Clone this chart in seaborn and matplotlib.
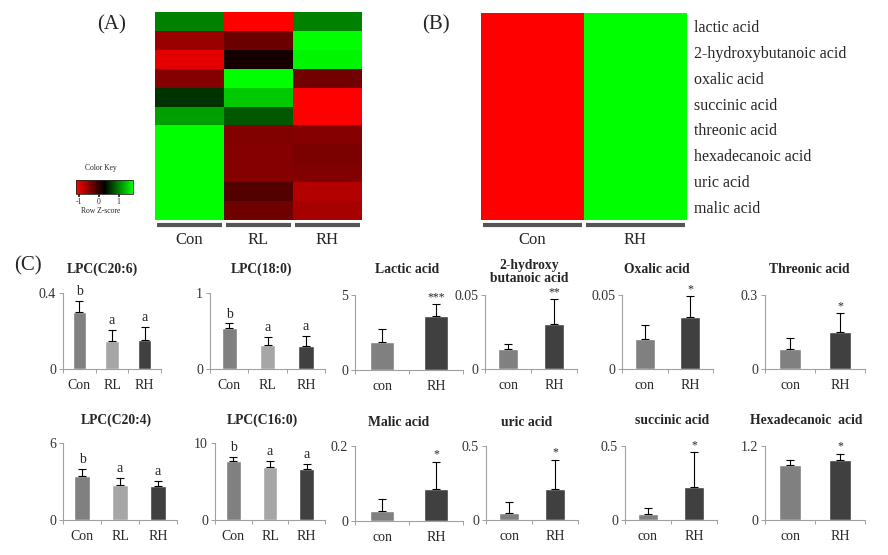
import numpy as np
import pandas as pd
import matplotlib
matplotlib.use('Agg')
import matplotlib.pyplot as plt
import seaborn as sns
from matplotlib.colors import LinearSegmentedColormap, Normalize
from matplotlib.cm import ScalarMappable

################################################################################
# data
################################################################################

# (A) row z-scores, 11 metabolites x 3 groups
groups_a = ['Con', 'RL', 'RH']
zscore_a = [
    [0.58, -1.15, 0.58],
    [-0.69, -0.48, 1.15],
    [-1.03, -0.09, 1.10],
    [-0.60, 1.15, -0.52],
    [0.23, 0.90, -1.15],
    [0.71, 0.40, -1.15],
    [1.15, -0.58, -0.60],
    [1.15, -0.60, -0.55],
    [1.15, -0.60, -0.58],
    [1.15, -0.37, -0.80],
    [1.15, -0.50, -0.75],
]

# (B) row z-scores, 8 acids x 2 groups
groups_b = ['Con', 'RH']
acids_b = ['lactic acid', '2-hydroxybutanoic acid', 'oxalic acid', 'succinic acid',
           'threonic acid', 'hexadecanoic acid', 'uric acid', 'malic acid']
zscore_b = [
    [-0.71, 0.71],
    [-0.71, 0.71],
    [-0.71, 0.71],
    [-0.71, 0.71],
    [-0.71, 0.71],
    [-0.71, 0.71],
    [-0.71, 0.71],
    [-0.71, 0.71],
]

# (C) bar charts
lpc_groups = ['Con', 'RL', 'RH']
acid_groups = ['con', 'RH']

lpc20_6_mean = [0.30, 0.149, 0.153]
lpc20_6_err = [0.06, 0.056, 0.07]
lpc18_0_mean = [0.54, 0.32, 0.30]
lpc18_0_err = [0.06, 0.10, 0.14]
lpc20_4_mean = [3.39, 2.74, 2.66]
lpc20_4_err = [0.57, 0.55, 0.39]
lpc16_0_mean = [7.66, 6.88, 6.62]
lpc16_0_err = [0.52, 0.78, 0.65]
lpc_letters = ['b', 'a', 'a']

lactic_mean = [1.88, 3.59]
lactic_err = [0.86, 0.78]
hydroxybut_mean = [0.0135, 0.0304]
hydroxybut_err = [0.0032, 0.0166]
oxalic_mean = [0.020, 0.0353]
oxalic_err = [0.010, 0.0137]
threonic_mean = [0.081, 0.151]
threonic_err = [0.043, 0.075]
malic_mean = [0.026, 0.086]
malic_err = [0.032, 0.071]
uric_mean = [0.049, 0.21]
uric_err = [0.071, 0.195]
succinic_mean = [0.04, 0.22]
succinic_err = [0.039, 0.237]
hexadec_mean = [0.90, 0.98]
hexadec_err = [0.08, 0.09]

################################################################################
# style / layout
################################################################################

sns.set_theme(style='white')
plt.rcParams['font.family'] = ['Liberation Serif', 'DejaVu Serif']
plt.rcParams['axes.unicode_minus'] = False

W, H = 888, 555
fig = plt.figure(figsize=(W / 100, H / 100), dpi=100)


def box(x0, y0, x1, y1):
    return [x0 / W, 1 - y1 / H, (x1 - x0) / W, (y1 - y0) / H]


def ftext(x, y, s, **kw):
    fig.text(x / W, 1 - y / H, s, **kw)


rg = LinearSegmentedColormap.from_list('rg', ['#ff0000', '#000000', '#00ff00'])
bar_line = '#555555'

# ---------------- (A) heatmap ----------------
axA = fig.add_axes(box(155, 12, 362, 220))
sns.heatmap(pd.DataFrame(zscore_a, columns=groups_a), cmap=rg, vmin=-1.15, vmax=1.15,
            cbar=False, xticklabels=False, yticklabels=False, ax=axA)
nrow = len(zscore_a)
for i, g in enumerate(groups_a):
    axA.plot([i + 0.03, i + 0.97], [nrow + 0.27, nrow + 0.27], color=bar_line, lw=3,
             clip_on=False, solid_capstyle='butt')
    axA.text(i + 0.5, nrow + 1.05, g, ha='center', va='center', fontsize=12)

# color key
axK = fig.add_axes(box(76, 180, 133, 194))
cb = fig.colorbar(ScalarMappable(norm=Normalize(-1.13, 1.72), cmap=rg), cax=axK,
                  orientation='horizontal', ticks=[-1, 0, 1])
cb.ax.tick_params(labelsize=5.5, length=2, pad=1)
cb.outline.set_linewidth(0.6)
ftext(101, 168, 'Color Key', ha='center', va='center', fontsize=5.5)
ftext(101, 211, 'Row Z-score', ha='center', va='center', fontsize=5.5)

# ---------------- (B) heatmap ----------------
axB = fig.add_axes(box(481, 13, 687, 220))
sns.heatmap(pd.DataFrame(zscore_b, index=acids_b, columns=groups_b), cmap=rg,
            vmin=-0.71, vmax=0.71, cbar=False, xticklabels=False, yticklabels=True, ax=axB)
axB.yaxis.tick_right()
axB.tick_params(axis='y', length=0, labelsize=11.5, pad=5, labelrotation=0)
nrow_b = len(zscore_b)
for i, g in enumerate(groups_b):
    axB.plot([i + 0.015, i + 0.985], [nrow_b + 0.2, nrow_b + 0.2], color=bar_line, lw=3,
             clip_on=False, solid_capstyle='butt')
    axB.text(i + 0.5, nrow_b + 0.77, g, ha='center', va='center', fontsize=12)

ftext(112, 25, '(A)', ha='center', va='center', fontsize=15)
ftext(436, 25, '(B)', ha='center', va='center', fontsize=15)
ftext(28, 266, '(C)', ha='center', va='center', fontsize=15)

# ---------------- (C) bar charts ----------------
pal3 = ['#808080', '#a6a6a6', '#404040']
pal2 = ['#808080', '#404040']
sig2 = ['', '*']

panels = [
    # title, groups, mean, err, marks, ymax, ylabel, axes box, title x, title y
    ('LPC(C20:6)', lpc_groups, lpc20_6_mean, lpc20_6_err, lpc_letters, 0.4, '0.4', (63, 293, 161, 369), 102, 273),
    ('LPC(18:0)', lpc_groups, lpc18_0_mean, lpc18_0_err, lpc_letters, 1, '1', (210, 293, 325, 369), 262, 273),
    ('Lactic acid', acid_groups, lactic_mean, lactic_err, ['', '***'], 5, '5', (355, 295, 463, 370), 407, 273),
    ('2-hydroxy\nbutanoic acid', acid_groups, hydroxybut_mean, hydroxybut_err, ['', '**'], 0.05, '0.05',
     (485, 295, 577, 369), 529, 282),
    ('Oxalic acid', acid_groups, oxalic_mean, oxalic_err, sig2, 0.05, '0.05', (622, 295, 713, 369), 657, 273),
    ('Threonic acid', acid_groups, threonic_mean, threonic_err, sig2, 0.3, '0.3', (765, 295, 865, 369), 809, 273),
    ('LPC(C20:4)', lpc_groups, lpc20_4_mean, lpc20_4_err, lpc_letters, 6, '6', (63, 443, 177, 520), 116, 424),
    ('LPC(C16:0)', lpc_groups, lpc16_0_mean, lpc16_0_err, lpc_letters, 10, '10', (215, 443, 325, 520), 262, 424),
    ('Malic acid', acid_groups, malic_mean, malic_err, sig2, 0.2, '0.2', (355, 446, 463, 521), 399, 426),
    ('uric acid', acid_groups, uric_mean, uric_err, sig2, 0.5, '0.5', (486, 446, 578, 520), 527, 426),
    ('succinic acid', acid_groups, succinic_mean, succinic_err, sig2, 0.5, '0.5', (625, 446, 717, 520), 672, 424),
    ('Hexadecanoic  acid', acid_groups, hexadec_mean, hexadec_err, sig2, 1.2, '1.2', (765, 446, 865, 520), 806, 424),
]

for title, groups, mean, err, marks, ymax, ylab, bx, tx, ty in panels:
    n = len(groups)
    ax = fig.add_axes(box(*bx))
    pal = pal3 if n == 3 else pal2
    sns.barplot(x=groups, y=mean, hue=groups, order=groups, hue_order=groups, palette=pal,
                saturation=1, legend=False, width=0.4 if n == 3 else 0.45, errorbar=None, ax=ax)
    ax.errorbar(np.arange(n), mean, yerr=[np.zeros(n), err], fmt='none', ecolor='black',
                elinewidth=0.8, capsize=3, capthick=0.8)
    for i, m in enumerate(marks):
        if not m:
            continue
        star = m.startswith('*')
        ax.annotate(m, (i, mean[i] + err[i]), xytext=(0, 1 if star else 2), textcoords='offset points',
                    ha='center', va='bottom', fontsize=8.5 if star else 10)
    ax.set_xlim(-0.5, n - 0.5)
    ax.set_ylim(0, ymax)
    ax.set_yticks([0, ymax])
    ax.set_yticklabels(['0', ylab])
    ax.set_xticks(np.arange(n))
    ax.set_xticklabels(groups)
    ax.set_xticks(np.arange(-0.5, n, 1), minor=True)
    ax.tick_params(axis='x', which='major', length=0, pad=7, labelsize=10)
    ax.tick_params(axis='x', which='minor', length=3, width=0.7, color='#a0a0a0', direction='out', bottom=True)
    ax.tick_params(axis='y', length=3, width=0.7, color='#a0a0a0', direction='out', left=True, pad=2,
                   labelsize=10, labelcolor='#333333')
    ax.set_xlabel('')
    ax.set_ylabel('')
    sns.despine(ax=ax)
    for s in ['left', 'bottom']:
        ax.spines[s].set_color('#a0a0a0')
        ax.spines[s].set_linewidth(0.8)
    ax.patch.set_alpha(0)
    ftext(tx, ty, title, ha='center', va='baseline', fontsize=9.8, fontweight='bold', linespacing=0.95)

fig.savefig('out.png', dpi=100)
